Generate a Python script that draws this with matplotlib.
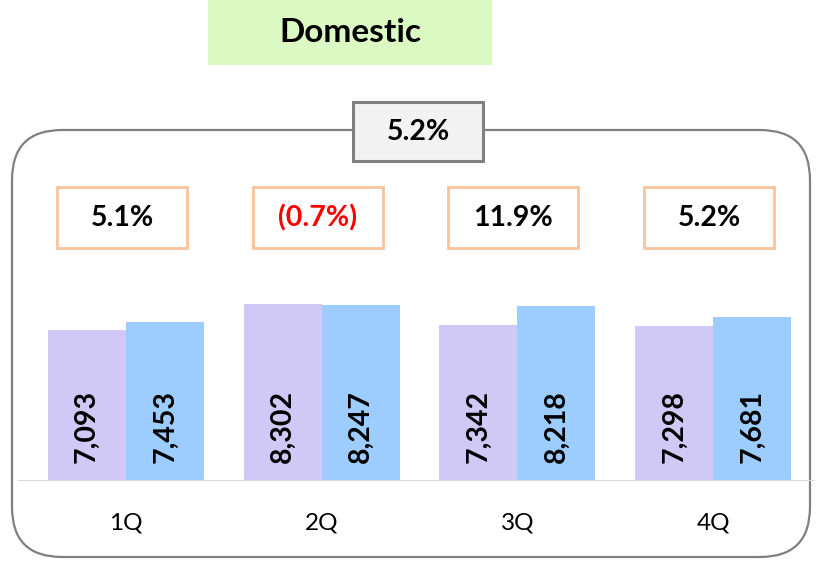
import matplotlib
matplotlib.use("Agg")
import matplotlib.pyplot as plt
import matplotlib.transforms as mtrans
from matplotlib.patches import FancyBboxPatch, Rectangle

plt.rcParams['font.family'] = ['Lato', 'DejaVu Sans']

# Dados do gráfico
titulo = 'Domestic'
trimestres = ['1Q', '2Q', '3Q', '4Q']
ano_anterior = [7093, 8302, 7342, 7298]
ano_atual = [7453, 8247, 8218, 7681]
crescimento = ['5.1%', '(0.7%)', '11.9%', '5.2%']
crescimento_total = '5.2%'

cor_roxo = '#d1c9f5'
cor_azul = '#9dcdfe'

fig = plt.figure(figsize=(8.2, 5.62), dpi=100)

# eixo de fundo em coordenadas de pixel (y invertido)
fundo = fig.add_axes([0, 0, 1, 1])
fundo.set_xlim(0, 820)
fundo.set_ylim(562, 0)
fundo.axis('off')

# eixo das barras
ax = fig.add_axes([18 / 820, 81 / 562, 797 / 820, 300 / 562])
ax.patch.set_alpha(0)
x = list(range(len(trimestres)))
w = 0.399
ax.bar([i - w / 2 for i in x], ano_anterior, width=w, color=cor_roxo, zorder=2)
ax.bar([i + w / 2 for i in x], ano_atual, width=w, color=cor_azul, zorder=2)
ax.set_xlim(-0.552, 3.521)
ax.set_ylim(0, 14090)
ax.axhline(0, color='#d9d9d9', lw=2.2, zorder=3)
for s in ax.spines.values():
    s.set_visible(False)
ax.set_yticks([])
ax.set_xticks(x)
ax.set_xticklabels(trimestres, fontsize=17.5, color='black')
ax.tick_params(axis='x', length=0, pad=23)

for i in x:
    for xi, v in ((i - w / 2, ano_anterior[i]), (i + w / 2, ano_atual[i])):
        ax.annotate(f'{v:,}', (xi, 0), xytext=(0, 13), textcoords='offset points',
                    rotation=90, ha='center', va='bottom', fontsize=20.5,
                    fontweight='bold', zorder=4)

# moldura arredondada
moldura = FancyBboxPatch((12, 130), 798, 427, boxstyle='round,pad=0,rounding_size=50',
                         facecolor='none', edgecolor='#808080', lw=1.6)
fundo.add_patch(moldura)

# caixa de crescimento total
fundo.add_patch(Rectangle((353, 102), 130, 59, facecolor='#f2f2f2',
                          edgecolor='#808080', lw=2.2, zorder=3))
fundo.text(418, 132, crescimento_total, ha='center', va='center', fontsize=20.5,
           fontweight='bold', zorder=4)

# título
fundo.add_patch(Rectangle((208, -5), 284, 70, facecolor='#dbf9c2', edgecolor='none'))
fundo.text(350, 33, titulo, ha='center', va='center', fontsize=24, fontweight='bold')

# caixas de crescimento por trimestre
mist = mtrans.blended_transform_factory(ax.transData, fundo.transData)
for i in x:
    cor = 'red' if crescimento[i].startswith('(') else 'black'
    fundo.add_patch(Rectangle((i - 0.02 - 0.332, 187), 0.664, 61, transform=mist,
                              facecolor='white', edgecolor='#f8c49b', lw=2, clip_on=False))
    fundo.text(i - 0.02, 218, crescimento[i], transform=mist, ha='center', va='center',
               fontsize=20.5, fontweight='bold', color=cor)

fig.savefig('out.png', dpi=100)
plt.close(fig)
